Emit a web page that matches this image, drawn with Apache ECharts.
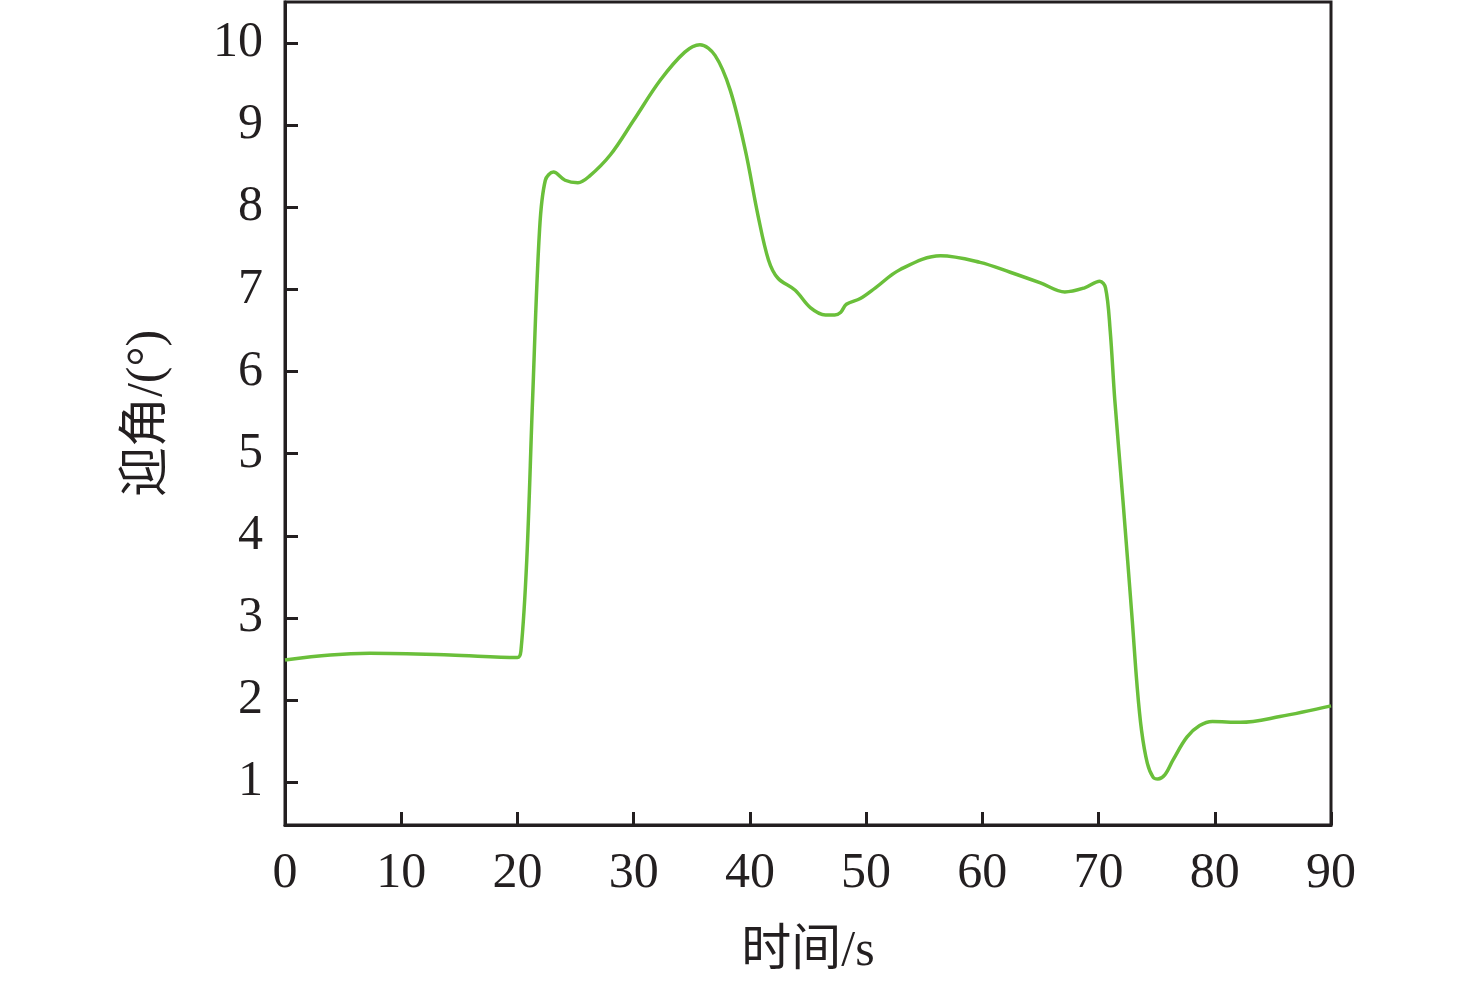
<!DOCTYPE html>
<html>
<head>
<meta charset="utf-8">
<title>迎角</title>
<script src="https://cdn.jsdelivr.net/npm/echarts@6/dist/echarts.min.js"></script>
<style>
    html, body { margin: 0; padding: 0; background: #fff; }
    #main { width: 1476px; height: 991px; }
</style>
</head>
<body>
<div id="main"></div>
<script>
// 时间 (s)
var timeData = [0, 3.9, 7.3, 14.2, 20, 20.3, 20.8, 21.3, 21.9, 22.4, 23.1, 24.1, 25.2, 26.2, 28,
    30, 32.3, 34.4, 35.7, 37, 38.3, 39.6, 40.7, 41.6, 42.4, 43.9, 45.2, 46.5, 47.3, 47.8, 48.3,
    49.5, 50.8, 52.9, 56.4, 59.8, 62.4, 65, 67.1, 68.8, 70.1, 70.6, 71, 71.4, 72.1, 72.9, 73.3,
    73.7, 74.2, 74.7, 75.1, 75.7, 76.4, 77.6, 78.7, 79.8, 82.2, 85.6, 90];
// 迎角 (°)
var angleData = [2.49, 2.55, 2.57, 2.55, 2.52, 2.6, 3.7, 5.65, 7.72, 8.33, 8.43, 8.33, 8.3, 8.38, 8.64,
    9.06, 9.55, 9.89, 9.98, 9.85, 9.43, 8.7, 7.9, 7.36, 7.14, 6.99, 6.78, 6.69, 6.69, 6.72, 6.82,
    6.89, 7.02, 7.24, 7.41, 7.33, 7.21, 7.08, 6.97, 7.02, 7.1, 7.02, 6.5, 5.65, 4.43, 2.97, 2.2,
    1.63, 1.23, 1.06, 1.04, 1.09, 1.27, 1.55, 1.69, 1.74, 1.73, 1.8, 1.93];
var yTicks = [1, 2, 3, 4, 5, 6, 7, 8, 9, 10];

var chartDom = document.getElementById('main');
var myChart = echarts.init(chartDom);
var axisColor = '#231f20';
var fontFamily = '"Liberation Serif", "Noto Sans CJK SC", serif';
var option;

option = {
    animation: false,
    grid: {
        left: 285,
        right: 145,
        top: 2,
        bottom: 166,
        show: true,
        borderColor: axisColor,
        borderWidth: 3
    },
    xAxis: {
        type: 'value',
        min: 0,
        max: 90,
        interval: 10,
        name: '时间/s',
        nameLocation: 'middle',
        nameGap: 102,
        nameTextStyle: { fontSize: 50, color: axisColor, fontFamily: fontFamily },
        axisLine: { show: true, lineStyle: { color: axisColor, width: 3 } },
        axisTick: { show: true, inside: true, length: 13, lineStyle: { color: axisColor, width: 3 } },
        axisLabel: { fontSize: 50, color: axisColor, fontFamily: fontFamily, margin: 24 },
        splitLine: { show: false }
    },
    yAxis: {
        type: 'value',
        min: 0.48,
        max: 10.5,
        name: '迎角/(°)',
        nameLocation: 'middle',
        nameGap: 112,
        nameTextStyle: { fontSize: 50, color: axisColor, fontFamily: fontFamily },
        axisLine: { show: true, lineStyle: { color: axisColor, width: 3 } },
        axisTick: { show: true, inside: true, length: 13, customValues: yTicks, lineStyle: { color: axisColor, width: 3 } },
        axisLabel: { fontSize: 50, color: axisColor, fontFamily: fontFamily, margin: 22, customValues: yTicks },
        splitLine: { show: false }
    },
    series: [
        {
            name: '迎角',
            type: 'line',
            data: timeData.map(function (t, i) { return [t, angleData[i]]; }),
            smooth: 0.35,
            showSymbol: false,
            lineStyle: { color: '#6abf3a', width: 3.5 }
        }
    ]
};
option && myChart.setOption(option);
</script>
</body>
</html>
